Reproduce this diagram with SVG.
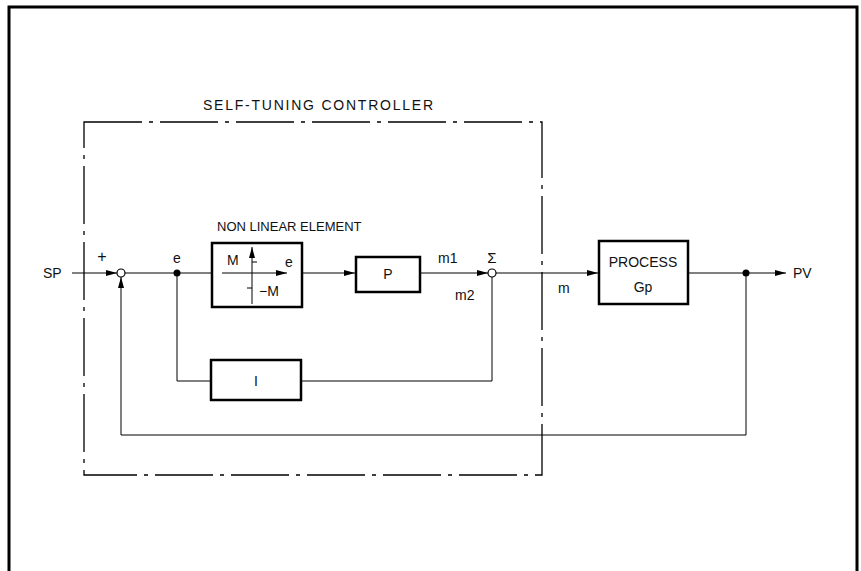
<svg xmlns="http://www.w3.org/2000/svg" width="861" height="571" viewBox="0 0 861 571">
<defs>
<style>
text{font-family:"Liberation Sans",Arial,sans-serif;font-size:14px;fill:#111}
.blk{fill:#fff;stroke:#000;stroke-width:2.5}
.ln{fill:none;stroke:#000;stroke-width:1}
.dd{fill:none;stroke:#000;stroke-width:1.3;stroke-dasharray:58 7 4 7}
</style>
<marker id="ah" markerWidth="12" markerHeight="8" refX="11" refY="4" orient="auto" markerUnits="userSpaceOnUse">
<path d="M0,1 L11,4 L0,7 Z" fill="#000"/>
</marker>
</defs>
<rect x="9" y="7" width="848" height="580" fill="none" stroke="#000" stroke-width="3"/>
<g id="controller-frame">
<rect class="dd" x="84" y="122" width="458" height="353"/>
<text x="203" y="110" textLength="230" lengthAdjust="spacing">SELF-TUNING CONTROLLER</text>
</g>
<g id="connectors">
<line class="ln" x1="72" y1="273" x2="117" y2="273" marker-end="url(#ah)"/>
<line class="ln" x1="125" y1="273" x2="212" y2="273"/>
<line class="ln" x1="302" y1="273" x2="355" y2="273" marker-end="url(#ah)"/>
<line class="ln" x1="420" y1="273" x2="488" y2="273" marker-end="url(#ah)"/>
<line class="ln" x1="496" y1="273" x2="598" y2="273" marker-end="url(#ah)"/>
<line class="ln" x1="688" y1="273" x2="786" y2="273" marker-end="url(#ah)"/>
<polyline class="ln" points="177,273 177,381 211,381"/>
<polyline class="ln" points="301,381 492,381 492,277"/>
<polyline class="ln" points="746,273 746,435 121,435 121,277" marker-end="url(#ah)"/>
<circle cx="177" cy="273" r="3.5" fill="#000"/>
<circle cx="746" cy="273" r="3.5" fill="#000"/>
</g>
<g id="sum1">
<circle cx="121" cy="273" r="4" fill="#fff" stroke="#000" stroke-width="1.2"/>
<text x="102" y="262" text-anchor="middle" style="font-size:16px">+</text>
</g>
<g id="sum2">
<circle cx="492" cy="273" r="4" fill="#fff" stroke="#000" stroke-width="1.2"/>
<text x="492" y="263" text-anchor="middle" style="font-size:15px">Σ</text>
</g>
<g id="sp"><text x="43" y="278">SP</text></g>
<g id="pv"><text x="793" y="278">PV</text></g>
<g id="label-e"><text x="177" y="263" text-anchor="middle">e</text></g>
<g id="nonlinear">
<text x="217" y="231" style="font-size:13px">NON LINEAR ELEMENT</text>
<rect class="blk" x="212" y="243" width="90" height="64"/>
<line class="ln" x1="222" y1="273" x2="287" y2="273" marker-end="url(#ah)"/>
<line class="ln" x1="252" y1="304" x2="252" y2="247" marker-end="url(#ah)"/>
<line class="ln" x1="252" y1="262" x2="257" y2="262"/>
<line class="ln" x1="247" y1="288" x2="252" y2="288"/>
<text x="227" y="265">M</text>
<text x="285" y="267">e</text>
<text x="259" y="296">−M</text>
</g>
<g id="p-block">
<rect class="blk" x="356" y="257" width="64" height="35"/>
<text x="388" y="279" text-anchor="middle">P</text>
</g>
<g id="i-block">
<rect class="blk" x="211" y="360" width="90" height="40"/>
<text x="256" y="386" text-anchor="middle">I</text>
</g>
<g id="labels-m">
<text x="438" y="263">m1</text>
<text x="455" y="300">m2</text>
<text x="558" y="293">m</text>
</g>
<g id="process">
<rect class="blk" x="599" y="241" width="89" height="63"/>
<text x="643" y="267" text-anchor="middle">PROCESS</text>
<text x="643" y="292" text-anchor="middle">Gp</text>
</g>
</svg>
